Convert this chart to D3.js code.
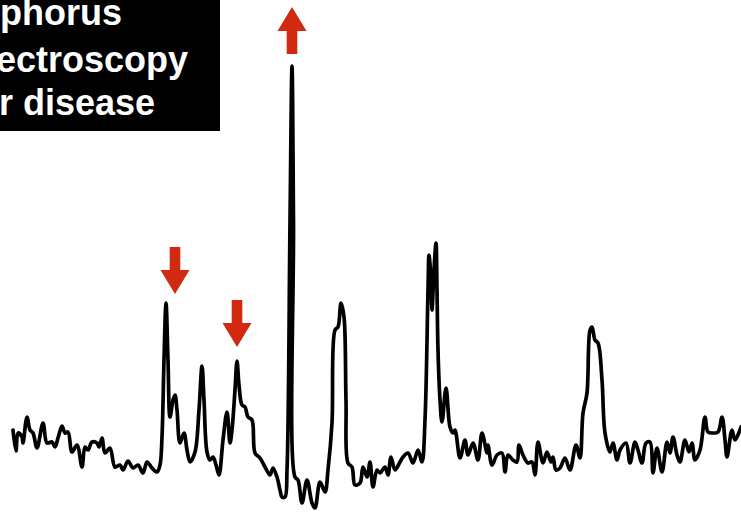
<!DOCTYPE html>
<html>
<head>
<meta charset="utf-8">
<script src="https://cdn.jsdelivr.net/npm/d3@7"></script>
<style>
  body { margin: 0; background: #fff; overflow: hidden; }
  svg { display: block; }
</style>
</head>
<body>
<div id="chart"></div>
<script>
// Chart size
var svgWidth = 741;
var svgHeight = 512;

// spectrum sample positions (left -> right) and signal level
var sample = [13, 16, 18, 22, 23, 27, 30, 33, 37, 43, 47, 52, 55, 58, 62, 65, 68, 72, 77, 82,
  85, 88, 92, 97, 99, 102, 105, 110, 115, 120, 123, 128, 133, 138, 143, 147, 152, 157, 160, 162,
  164, 166, 168, 170, 173, 175, 177, 180, 184, 187, 190, 195, 199, 202, 204, 207, 210, 213, 216, 219,
  223, 227, 230, 232, 235, 237, 239, 242, 245, 248, 252, 255, 260, 265, 270, 273, 277, 280, 282, 285,
  287, 290, 292, 293.5, 295, 298, 302, 307, 312, 315, 320, 325, 328, 332, 335, 338, 341, 344, 346,
  348, 352, 355, 360, 363, 367, 370, 373, 377, 380, 385, 388, 391, 395, 400, 403, 408, 413, 418, 422,
  425, 428, 429, 431, 432, 434, 436, 437, 438, 440, 442, 446, 450, 453, 455, 460, 465, 468, 473, 478,
  482, 487, 488, 492, 497, 502, 505, 508, 513, 517, 519, 523, 528, 532, 535, 538, 543, 547, 551, 553,
  556, 560, 565, 570, 576, 580, 583, 587, 590, 592, 595, 598, 602, 605, 610, 613, 617, 620, 626, 630,
  635, 638, 642, 646, 650, 653, 657, 662, 667, 670, 673, 677, 680, 685, 689, 692, 695, 700, 705, 708,
  713, 718, 722, 725, 727, 732, 735, 741];

var signal = [82, 61, 79, 75, 69, 95, 82, 79, 64, 89, 69, 70, 65, 74, 86, 79, 80, 60, 67, 45,
  65, 62, 70, 69, 65, 74, 59, 64, 45, 47, 42, 51, 44, 47, 39, 50, 44, 40, 47, 75,
  152, 209, 152, 95, 112, 117, 102, 69, 79, 62, 50, 60, 102, 146, 112, 60, 52, 55, 47, 37,
  72, 100, 69, 82, 122, 151, 127, 107, 105, 95, 92, 59, 54, 45, 37, 44, 35, 22, 15, 15,
  42, 290, 446, 290, 35, 32, 9, 32, 9, 4, 30, 20, 42, 89, 182, 185, 209, 195, 112,
  49, 45, 27, 29, 45, 35, 50, 25, 42, 39, 45, 37, 55, 42, 50, 55, 59, 49, 62, 50,
  92, 222, 257, 232, 202, 242, 269, 222, 162, 112, 90, 124, 85, 79, 82, 54, 72, 57, 69, 52,
  79, 59, 67, 47, 57, 59, 40, 57, 52, 50, 67, 57, 49, 50, 37, 70, 49, 60, 50, 55,
  42, 44, 54, 42, 67, 54, 99, 119, 182, 185, 172, 169, 132, 79, 60, 69, 52, 62, 69, 49,
  70, 62, 49, 69, 70, 39, 64, 40, 70, 59, 75, 57, 50, 72, 60, 69, 52, 62, 95, 80,
  79, 80, 95, 72, 55, 82, 72, 85];

// red marker arrows: sample position, signal at arrow tip, direction
var arrowAt = [175, 237, 292];
var arrowTip = [218, 165, 505];
var arrowDir = ["down", "down", "up"];

// title lines (left part cut off by the page edge)
var titleLines = ["phorus", "ectroscopy", "r disease"];

var svg = d3.select("#chart")
  .append("svg")
  .attr("width", svgWidth)
  .attr("height", svgHeight);

var xScale = d3.scaleLinear()
  .domain([0, 741])
  .range([0, svgWidth]);

var yScale = d3.scaleLinear()
  .domain([0, 512])
  .range([svgHeight, 0]);

// spectrum line
var line = d3.line()
  .x((d, i) => xScale(sample[i]))
  .y(d => yScale(d))
  .curve(d3.curveCatmullRom.alpha(0.5));

svg.append("path")
  .datum(signal)
  .attr("d", line)
  .attr("fill", "none")
  .attr("stroke", "#000")
  .attr("stroke-width", 3.7)
  .attr("stroke-linejoin", "round")
  .attr("stroke-linecap", "round");

// arrows
function arrowPath(x, tipY, dir) {
  var s = dir === "down" ? -1 : 1;   // -1: tip is below, body above
  var headW = 14.5, headH = 24, shaftW = 5.3, shaftL = 23;
  var baseY = tipY + s * headH;
  var endY = baseY + s * shaftL;
  return "M" + x + "," + tipY +
    "L" + (x + headW) + "," + baseY +
    "L" + (x + shaftW) + "," + baseY +
    "L" + (x + shaftW) + "," + endY +
    "L" + (x - shaftW) + "," + endY +
    "L" + (x - shaftW) + "," + baseY +
    "L" + (x - headW) + "," + baseY + "Z";
}

svg.selectAll(".arrow")
  .data(arrowAt)
  .enter()
  .append("path")
  .classed("arrow", true)
  .attr("d", (d, i) => arrowPath(xScale(d), yScale(arrowTip[i]), arrowDir[i]))
  .attr("fill", "#d12a10");

// title box
svg.append("rect")
  .attr("x", 0)
  .attr("y", 0)
  .attr("width", 220)
  .attr("height", 131)
  .attr("fill", "#000");

var titleEnd = [122, 188, 155];
var titleBase = [25, 72, 115];

svg.selectAll(".title")
  .data(titleLines)
  .enter()
  .append("text")
  .classed("title", true)
  .attr("x", (d, i) => titleEnd[i])
  .attr("y", (d, i) => titleBase[i])
  .attr("text-anchor", "end")
  .attr("fill", "#fff")
  .attr("font-family", "'Liberation Sans', Arial, sans-serif")
  .attr("font-weight", "bold")
  .attr("font-size", "36px")
  .text(d => d);
</script>
</body>
</html>
